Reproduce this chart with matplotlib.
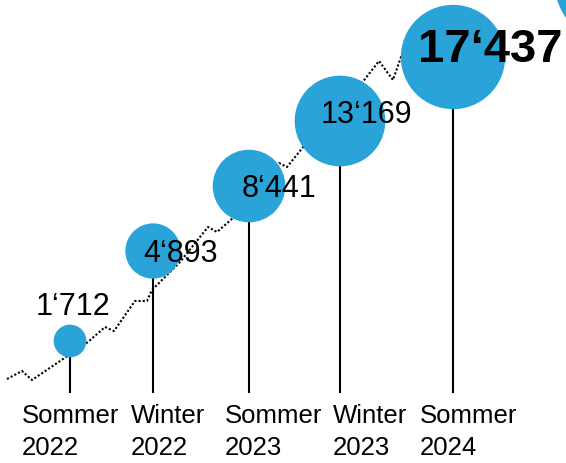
import matplotlib
matplotlib.use("Agg")
import matplotlib.pyplot as plt
from matplotlib.patches import Circle
import numpy as np

plt.rcParams['font.family'] = ['Liberation Sans', 'DejaVu Sans']

# data
seasons = ["Sommer\n2022", "Winter\n2022", "Sommer\n2023", "Winter\n2023", "Sommer\n2024"]
values = [1712, 4893, 8441, 13169, 17437]
labels = ["1‘712", "4‘893", "8‘441", "13‘169", "17‘437"]

# layout (canvas units = pixels)
stem_x = [70, 153, 249, 340, 453]
bubble_y = [341, 251, 186, 121, 57]
label_xy = [(73, 307), (181, 254), (279, 189), (366, 115), (490, 50)]
season_x = [22, 131, 225, 333, 420]
trend_x = [7, 22, 32, 63, 88, 105, 114, 135, 147, 152, 180, 200, 208, 217, 233,
           260, 279, 287, 304, 340, 358, 379, 393, 401, 440]
trend_y = [379, 371, 380, 359, 342, 327, 331, 301, 301, 290, 262, 237, 227, 232, 218,
           190, 163, 167, 146, 110, 88, 61, 80, 57, 40]

blue = "#29a3d8"

fig = plt.figure(figsize=(5.66, 4.63), dpi=100)
ax = fig.add_axes([0, 0, 1, 1])
ax.set_xlim(0, 566)
ax.set_ylim(463, 0)
ax.axis("off")

ax.plot(trend_x, trend_y, color="black", lw=1.5, linestyle=(0, (1, 1)), zorder=1)

for x, y in zip(stem_x, bubble_y):
    ax.plot([x, x], [y, 392], color="black", lw=1.5, zorder=2)

for x, y, v in zip(stem_x, bubble_y, values):
    ax.add_patch(Circle((x, y), 0.395 * np.sqrt(v), color=blue, lw=0, zorder=3))

# partial bubble cut off at top right
ax.add_patch(Circle((620, -20), 66, color=blue, lw=0, zorder=3))

for i, (lab, (tx, ty)) in enumerate(zip(labels, label_xy)):
    last = i == len(labels) - 1
    ax.text(tx, ty, lab, ha="center", va="center", zorder=4,
            fontsize=34 if last else 22, fontweight="bold" if last else "normal")

for sx, s in zip(season_x, seasons):
    ax.text(sx, 404, s, ha="left", va="top", fontsize=18.5, linespacing=1.4)

fig.savefig("out.png", dpi=100)
